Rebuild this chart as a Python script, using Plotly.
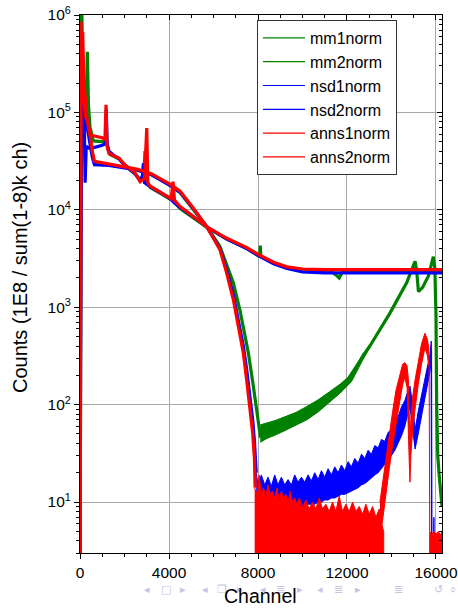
import math
import plotly.graph_objects as go

# ---------------- data ----------------
# mm1norm (green, flat tail)
mm1_ch = [0, 50, 75, 110, 180, 280, 330, 380, 450, 600,
          1100, 1170, 1230, 1350, 1750, 2020, 2470, 2700, 2880, 2920,
          2970, 3150, 3670, 4200, 4500, 5100, 5700, 6600, 7500, 8000,
          8080, 8100, 8130, 8700, 9300, 10000, 11300, 11500, 11650, 11800,
          16270]
mm1_val = [1, 3e5, 1.5e6, 4e5, 1.6e5, 1.2e5, 4.2e5, 1.2e5, 7e4, 51000,
           50000, 60000, 44000, 37000, 33500, 28500, 23500, 20500, 23000, 40000,
           20000, 17000, 14500, 12300, 10300, 8300, 6600, 5000, 4000, 3400,
           3300, 4300, 3300, 2850, 2550, 2380, 2330, 2150, 2000, 2300,
           2300]

# mm2norm (green, plunging)
mm2_ch = [0, 40, 100, 200, 300, 450, 600, 700, 1300, 2000,
          2600, 3200, 3600, 4100, 4500, 5080, 5700, 6290, 6590, 6890,
          7190, 7566, 7790, 7940, 8050, 8100, 8400, 9000, 9700, 10200,
          10900, 11200, 12000, 13030, 13930, 14680, 15060, 15130, 15210, 15400,
          15660, 15880, 15950, 16000, 16030, 16080, 16150, 16230, 16270]
mm2_val = [1, 4e5, 2.5e5, 1.3e5, 9e4, 5.5e4, 33000, 30000, 29000, 27500,
           25500, 23000, 20500, 17500, 15000, 10300, 6700, 4200, 2700, 1780,
           930, 340, 155, 83, 55, 48, 53, 60, 70, 82,
           105, 118, 175, 400, 870, 1780, 2960, 2400, 1450, 1600,
           2100, 3300, 2500, 800, 100, 30, 18, 11, 9]
mm2_band_ch = [8100, 8400, 8800, 9200, 9700, 10200, 10700, 11200, 11700, 12200, 12700, 13030]
mm2_band_hi = [62, 65, 69, 75, 83, 96, 112, 135, 163, 205, 330, 415]
mm2_band_lo = [41, 45, 49, 54, 61, 70, 84, 105, 132, 172, 285, 390]

# nsd1norm (blue, flat tail)
nsd1_ch = [0, 60, 130, 180, 230, 280, 400, 700, 1000, 1150,
           1180, 1220, 1300, 1500, 1750, 2020, 2470, 2700, 2800, 2850,
           2900, 3150, 3670, 4100, 4200, 4500, 5100, 5700, 6600, 7500,
           8000, 8700, 9300, 10000, 11000, 16270]
nsd1_val = [1, 2e5, 3.5e5, 1.3e5, 19000, 45000, 43000, 44000, 46000, 48000,
            107000, 48000, 40000, 36500, 33500, 28500, 23500, 20000, 22000, 30000,
            19000, 17300, 14800, 12800, 12000, 10600, 8500, 6700, 5000, 4000,
            3400, 2800, 2500, 2300, 2250, 2250]

# nsd2norm (blue, plunging)
nsd2_ch = [0, 40, 100, 180, 280, 400, 550, 650, 1300, 2000,
           2600, 3200, 3600, 4100, 4500, 5080, 5700, 6290, 6590, 6890,
           7120, 7340, 7490, 7640, 7760, 7840, 7920]
nsd2_val = [1, 3e5, 2e5, 1.2e5, 8e4, 5.5e4, 35000, 29000, 28500, 27000,
            25500, 23000, 20500, 17500, 15200, 10400, 6700, 4000, 2400, 1350,
            720, 400, 230, 125, 70, 42, 20]
nsd2_band_ch = [7920, 8000, 8150, 8300, 8450, 8600, 8750, 8900, 9050, 9200,
                9350, 9500, 9650, 9800, 9950, 10100, 10250, 10400, 10550, 10700,
                10850, 11000, 11150, 11300, 11450, 11600, 11750, 11900, 12050, 12200,
                12350, 12500, 12650, 12800, 12950, 13100, 13250, 13400, 13550, 13700,
                13850, 14000, 14150, 14300, 14450, 14600, 14700, 14830, 14950, 15060,
                15200, 15400, 15600, 15730, 15790]
nsd2_band_hi = [20, 15, 19, 15, 18, 14.5, 19, 15, 18, 15,
                17, 15, 19, 16, 18, 16, 19, 16.5, 20, 17,
                21, 18, 22, 19, 23, 20, 24, 21, 26, 23,
                28, 25, 31, 28, 34, 31, 38, 36, 44, 42,
                52, 55, 68, 75, 95, 110, 130, 155, 100, 55,
                85, 140, 230, 330, 450]
nsd2_band_lo = [3, 3, 8, 8, 8, 8, 8, 8.5, 8.5, 8.5,
                8.5, 8.5, 9, 9, 9, 9, 9.5, 9.5, 9.5, 10,
                10, 10.5, 10.5, 11, 11, 11.5, 12, 12, 12.5, 13,
                13.5, 14, 15, 15.5, 16.5, 17.5, 19, 20, 22, 24,
                27, 30, 34, 40, 48, 60, 75, 95, 55, 35,
                50, 85, 150, 220, 300]
nsd2_end_ch = [15790, 15815, 15895, 15905, 15915]
nsd2_end_val = [380, 1, 1, 7, 1]

# anns1norm (red, flat tail)
anns1_ch = [0, 45, 80, 120, 170, 225, 300, 380, 450, 700,
            1000, 1120, 1170, 1210, 1300, 1500, 1750, 2020, 2300, 2470,
            2700, 2900, 3000, 3050, 3150, 3670, 4100, 4180, 4250, 4500,
            5100, 5700, 6600, 7500, 8000, 8700, 9300, 10000, 11000, 16270]
anns1_val = [1, 8.5e5, 1.5e5, 6.7e5, 2.2e5, 1.6e5, 9e4, 7e4, 59000, 57000,
             55000, 52000, 120000, 46000, 38000, 36000, 34000, 29000, 26000, 24000,
             19500, 21000, 69000, 19000, 17500, 15000, 13000, 19500, 12500, 10800,
             8600, 6700, 5100, 4100, 3500, 2900, 2600, 2470, 2430, 2430]

# anns2norm (red, plunging)
anns2_ch = [0, 40, 90, 150, 250, 350, 450, 550, 650, 1300,
            2000, 2600, 3200, 3600, 4100, 4500, 5080, 5700, 6290, 6590,
            6890, 7120, 7340, 7490, 7640, 7760, 7840, 7870]
anns2_val = [1, 6e5, 3e5, 1.5e5, 9e4, 8e4, 6e4, 40000, 31500, 29500,
             28000, 26000, 23500, 21000, 18000, 15500, 10500, 6700, 3900, 2250,
             1200, 630, 340, 180, 96, 51, 28, 14]
anns2_noise_ch = [7850, 7950, 8050, 8150, 8250, 8350, 8450, 8550, 8650, 8750,
                  8850, 8950, 9050, 9150, 9250, 9350, 9450, 9550, 9650, 9750,
                  9850, 10000, 10150, 10300, 10450, 10600, 10750, 10900, 11050, 11200,
                  11350, 11500, 11650, 11800, 11950, 12100, 12250, 12400, 12550, 12700,
                  12850, 13000, 13150, 13300, 13450, 13550, 13650]
anns2_noise_top = [14, 12, 19, 12, 14, 11, 15, 12, 13, 11,
                   14, 10.5, 13, 11, 12, 10, 13, 10, 11, 9.5,
                   11, 9, 10.5, 8.5, 10, 8.5, 11, 8.5, 9.5, 8,
                   10, 8, 11.5, 8, 9.5, 8, 10, 8, 9, 7.5,
                   9.5, 7.5, 9, 7, 8.5, 6, 5]
anns2_rise_ch = [13480, 13600, 13750, 13900, 14050, 14200, 14380, 14500, 14600, 14700,
                 14760, 14800, 14830, 14870, 14950, 15060, 15200, 15350, 15500, 15600, 15680]
anns2_rise_hi = [10, 16, 28, 48, 85, 140, 210, 260, 270, 250,
                 180, 90, 40, 70, 120, 180, 280, 420, 540, 480, 380]
anns2_rise_lo = [4, 7, 12, 22, 38, 65, 110, 160, 190, 150,
                 60, 25, 16, 30, 55, 90, 160, 260, 380, 330, 250]
anns2_end_ch = [15690, 15720, 15800, 15900, 16000, 16100, 16200, 16270]
anns2_end_top = [250, 5, 4.6, 5, 4.7, 5, 4.6, 5]
FLOOR = 1  # zero-count level, below the visible axis range

series_names = ["mm1norm", "mm2norm", "nsd1norm", "nsd2norm", "anns1norm", "anns2norm"]
x_ticks = [0, 4000, 8000, 12000, 16000]
x_ticktext = ["0", "4000", "8000", "12000", "16000"]
y_ticks = [10, 100, 1000, 10000, 100000, 1000000]
y_ticktext = ["10<sup>1</sup>", "10<sup>2</sup>", "10<sup>3</sup>", "10<sup>4</sup>",
              "10<sup>5</sup>", "10<sup>6</sup>"]

GREEN, BLUE, RED = "#008000", "#0000ff", "#ff0000"
FONT = "Liberation Sans, Arial, Helvetica, sans-serif"
X_RANGE = [0, 16270]
Y_RANGE = [math.log10(3), 6]
LW = 3.2

fig = go.Figure()


def line(x, y, color, width=LW):
    fig.add_trace(go.Scatter(x=x, y=y, mode="lines", line=dict(color=color, width=width),
                             showlegend=False, hoverinfo="skip"))


def band(x, hi, lo, color):
    fig.add_trace(go.Scatter(x=list(x) + list(x)[::-1], y=list(hi) + list(lo)[::-1],
                             mode="lines", fill="toself", fillcolor=color,
                             line=dict(color=color, width=1),
                             showlegend=False, hoverinfo="skip"))


# green
line(mm1_ch, mm1_val, GREEN)
line(mm2_ch, mm2_val, GREEN)
band(mm2_band_ch, mm2_band_hi, mm2_band_lo, GREEN)
# blue
line(nsd1_ch, nsd1_val, BLUE)
line(nsd2_ch, nsd2_val, BLUE)
band(nsd2_band_ch, nsd2_band_hi, nsd2_band_lo, BLUE)
line(nsd2_end_ch, nsd2_end_val, BLUE, 1.5)
# red
line(anns1_ch, anns1_val, RED)
line(anns2_ch, anns2_val, RED)
band(anns2_noise_ch, anns2_noise_top, [FLOOR] * len(anns2_noise_ch), RED)
band(anns2_rise_ch, anns2_rise_hi, anns2_rise_lo, RED)
band(anns2_end_ch, anns2_end_top, [FLOOR] * len(anns2_end_ch), RED)

# legend entries
for name, color in zip(series_names, [GREEN, GREEN, BLUE, BLUE, RED, RED]):
    fig.add_trace(go.Scatter(x=[None], y=[None], mode="lines", name=name,
                             line=dict(color=color, width=1.2)))

# empty trace so the mirrored (inside-tick) axes are drawn
fig.add_trace(go.Scatter(x=[], y=[], xaxis="x2", yaxis="y2", showlegend=False, hoverinfo="skip"))

L, R, T, B = 80, 16, 15, 56
W, H = 458, 609
PW, PH = W - L - R, H - T - B


def px(xp, yp):
    return (xp - L) / PW, (H - B - yp) / PH


axis_common = dict(showline=True, linecolor="black", linewidth=1, zeroline=False,
                   tickcolor="black", ticklabeloverflow="allow", automargin=False,
                   tickfont=dict(family=FONT, size=15.5, color="black"))

fig.update_layout(
    width=W, height=H,
    margin=dict(l=L, r=R, t=T, b=B, autoexpand=False),
    paper_bgcolor="white", plot_bgcolor="white",
    font=dict(family=FONT, color="black"),
    xaxis=dict(range=X_RANGE, tickmode="array", tickvals=x_ticks, ticktext=x_ticktext,
               ticks="outside", ticklen=5, tickwidth=1, mirror=True, showgrid=True,
               gridcolor="#a8a8a8", gridwidth=1,
               minor=dict(dtick=1000, tick0=0, ticks="outside", ticklen=3, tickcolor="black",
                          showgrid=False),
               **axis_common),
    yaxis=dict(type="log", range=Y_RANGE, tickmode="array", tickvals=y_ticks,
               ticktext=y_ticktext, ticks="outside",
               ticklen=5, tickwidth=1, mirror=True, showgrid=True, gridcolor="#a8a8a8",
               gridwidth=1,
               minor=dict(dtick="D1", ticks="outside", ticklen=3, tickcolor="black",
                          showgrid=False),
               **axis_common),
    xaxis2=dict(overlaying="x", side="top", anchor="y", range=X_RANGE, tickmode="array",
                tickvals=x_ticks, ticks="inside", ticklen=5, tickcolor="black",
                showticklabels=False, showgrid=False, zeroline=False, showline=False,
                automargin=False,
                minor=dict(dtick=1000, tick0=0, ticks="inside", ticklen=3, tickcolor="black",
                           showgrid=False)),
    yaxis2=dict(overlaying="y", side="right", anchor="x", type="log", range=Y_RANGE, dtick=1,
                ticks="inside", ticklen=5, tickcolor="black", showticklabels=False,
                showgrid=False, zeroline=False, showline=False, automargin=False,
                minor=dict(dtick="D1", ticks="inside", ticklen=3, tickcolor="black",
                           showgrid=False)),
    legend=dict(x=px(257, 0)[0], y=px(0, 20)[1], xanchor="left", yanchor="top",
                bgcolor="white", bordercolor="#333333", borderwidth=1,
                font=dict(family=FONT, size=16, color="black"), tracegroupgap=0,
                itemwidth=42),
)

ann = []
ax, ay = px(20, 268)
ann.append(dict(x=ax, y=ay, xref="paper", yref="paper", xanchor="center", yanchor="middle",
                text="Counts (1E8 / sum(1-8)k ch)", textangle=-90, showarrow=False,
                font=dict(family=FONT, size=20, color="black")))

# beamer navigation symbols (faint)
nav = [(147, "◂"), (166, "□"), (183, "▸"), (205, "◂"), (222, "❐"), (240, "▸"),
       (263, "◂"), (280, "≣"), (300, "▸"), (320, "◂"), (338, "≣"), (358, "▸"),
       (398, "≣"), (438, "↺"), (453, "⌕")]
for xp_, sym in nav:
    nx, ny = px(xp_, 589)
    ann.append(dict(x=nx, y=ny, xref="paper", yref="paper", xanchor="center",
                    yanchor="middle", text=sym, showarrow=False,
                    font=dict(family="DejaVu Sans", size=11, color="#c4c4e4")))

cx, cy = px(260, 596)
ann.append(dict(x=cx, y=cy, xref="paper", yref="paper", xanchor="center", yanchor="middle",
                text="Channel", showarrow=False, font=dict(family=FONT, size=19.5, color="black")))
fig.update_layout(annotations=ann)

fig.write_html("out.html")
